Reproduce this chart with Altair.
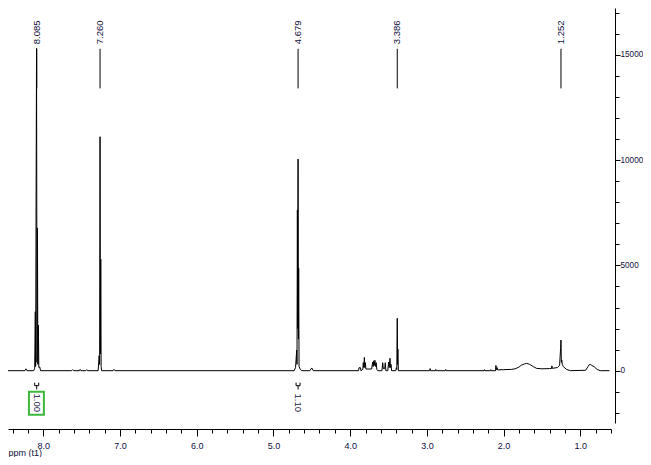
import altair as alt
import pandas as pd

# ---------------- data ----------------
ppm = [8.460, 8.240, 8.226, 8.212, 8.125, 8.112, 8.104, 8.100, 8.088, 8.082,
       8.076, 8.071, 8.064, 8.058, 8.045, 8.036,
       7.630, 7.617, 7.604, 7.530, 7.520, 7.510, 7.445, 7.434, 7.423,
       7.285, 7.272, 7.266, 7.260, 7.255, 7.251, 7.246, 7.240,
       7.090, 7.078, 7.066,
       4.730, 4.712, 4.697, 4.693, 4.688, 4.684, 4.679, 4.675, 4.671, 4.666, 4.650, 4.630,
       4.525, 4.501, 4.480,
       3.890, 3.885, 3.865, 3.860, 3.835, 3.829, 3.822, 3.815, 3.808, 3.801, 3.795,
       3.720, 3.706, 3.700, 3.692, 3.686, 3.677, 3.670, 3.661, 3.652, 3.640,
       3.585, 3.576, 3.568, 3.550, 3.542, 3.535,
       3.510, 3.498, 3.490, 3.481, 3.474, 3.467, 3.460,
       3.405, 3.398, 3.392, 3.386, 3.382, 3.378, 3.372,
       2.965, 2.958, 2.951, 2.890, 2.884, 2.878, 2.760, 2.754, 2.748,
       2.255, 2.250, 2.245, 2.172, 2.167, 2.162,
       2.105, 2.100, 2.095, 2.085, 2.078, 2.035, 2.030, 2.025,
       2.000, 1.900, 1.850, 1.800, 1.770, 1.730, 1.700, 1.660, 1.610, 1.570,
       1.500, 1.400, 1.375, 1.370, 1.365, 1.300, 1.270,
       1.257, 1.252, 1.247, 1.242, 1.235, 1.220, 1.180, 1.130,
       0.930, 0.900, 0.885, 0.870, 0.850, 0.820, 0.780, 0.740, 0.620]
intensity = [0, 0, 90, 0, 0, 120, 2800, 200, 15300, 400,
             6780, 300, 2170, 150, 170, 0,
             0, 50, 0, 0, 60, 0, 0, 50, 0,
             0, 712, 300, 11110, 800, 5300, 200, 0,
             0, 60, 0,
             0, 150, 980, 300, 7630, 2000, 10050, 1500, 4860, 200, 60, 0,
             0, 130, 0,
             0, 140, 140, 0, 60, 380, 150, 634, 150, 380, 80,
             80, 410, 200, 470, 250, 493, 200, 380, 60, 0,
             0, 380, 100, 100, 380, 0,
             0, 413, 150, 589, 150, 300, 0,
             0, 140, 60, 2490, 300, 1030, 0,
             0, 100, 0, 0, 60, 0, 0, 60, 0,
             0, 50, 0, 0, 50, 0,
             0, 250, 40, 150, 40, 40, 80, 40,
             50, 60, 90, 170, 260, 320, 350, 300, 190, 110,
             90, 100, 110, 230, 110, 150, 250,
             1063, 1458, 400, 508, 300, 190, 60, 0,
             20, 200, 280, 300, 250, 190, 60, 0, 0]

peak_ppm = [8.085, 7.260, 4.679, 3.386, 1.252]
peak_labels = ["8.085", "7.260", "4.679", "3.386", "1.252"]

int_from = [8.112, 4.705]
int_to = [8.060, 4.653]
int_values = ["1.00", "1.10"]

x_ticks = [8.4, 8.2, 8.0, 7.8, 7.6, 7.4, 7.2, 7.0, 6.8, 6.6, 6.4, 6.2, 6.0,
           5.8, 5.6, 5.4, 5.2, 5.0, 4.8, 4.6, 4.4, 4.2, 4.0, 3.8, 3.6, 3.4,
           3.2, 3.0, 2.8, 2.6, 2.4, 2.2, 2.0, 1.8, 1.6, 1.4, 1.2, 1.0, 0.8, 0.6]
y_ticks = list(range(-2000, 18000, 1000))

# ---------------- layout constants ----------------
X_DOMAIN = [0.6, 8.46]
Y_DOMAIN = [-2483, 17220]
LINE_TOP, LINE_BOTTOM = 15285, 13403
LABEL_Y = 15500
BR_TOP, BR_BAR, BR_STEM = -569, -711, -891
INT_TEXT_Y = -1081
BOX_HALF = 0.101
BOX_Y1, BOX_Y2 = -996, -2086

FONT = "Liberation Sans"
TXT = "#101040"

spec = pd.DataFrame({"ppm": ppm, "intensity": intensity})
peaks = pd.DataFrame({"ppm": peak_ppm, "label": peak_labels})
ints = pd.DataFrame({"a": int_from, "b": int_to, "val": int_values})
ints["c"] = (ints["a"] + ints["b"]) / 2
box = ints.iloc[[0]].copy()
box["l"] = box["c"] + BOX_HALF
box["r"] = box["c"] - BOX_HALF + 0.007

xs = alt.Scale(domain=X_DOMAIN, reverse=True, nice=False, zero=False)
ys = alt.Scale(domain=Y_DOMAIN, nice=False, zero=False)

is_int = "abs(datum.value - round(datum.value)) < 0.01"
x_axis = alt.Axis(
    values=x_ticks, format=".1f",
    labelExpr=f"{is_int} ? datum.label : ''",
    tickSize={"condition": {"test": is_int, "value": 7}, "value": 4},
    offset=6, labelPadding=5, domainColor="black", tickColor="black",
    domainWidth=1, tickWidth=1, grid=False, labelFlush=False, labelOverlap=False,
    labelColor=TXT, labelFont=FONT, labelFontSize=9,
    title="ppm (t1)", titleX=0, titleY=26.7, titleAlign="left",
    titleBaseline="alphabetic", titleFont=FONT, titleFontSize=9,
    titleFontWeight="normal", titleColor=TXT,
)
is_major = "datum.value % 5000 === 0"
y_axis = alt.Axis(
    orient="right", values=y_ticks, format="d",
    labelExpr=f"{is_major} ? datum.label : ''",
    tickSize={"condition": {"test": is_major, "value": 5}, "value": 4},
    offset=4, labelPadding=0, domainColor="black", tickColor="black",
    domainWidth=1, tickWidth=1, grid=False, labelFlush=False, labelOverlap=False,
    labelColor=TXT, labelFont=FONT, labelFontSize=8.2, title=None,
)


def X(field):
    return alt.X(field, scale=xs, axis=x_axis)


def Yd(value):
    return alt.Y(datum=value, scale=ys, axis=y_axis)


line = alt.Chart(spec).mark_line(color="black", strokeWidth=1, clip=True).encode(
    x=X("ppm:Q"),
    y=alt.Y("intensity:Q", scale=ys, axis=y_axis),
    order="ppm:Q",
)

plines = alt.Chart(peaks).mark_rule(color="black", strokeWidth=1).encode(
    x=X("ppm:Q"), y=Yd(LINE_TOP), y2=alt.datum(LINE_BOTTOM),
)
ptext = alt.Chart(peaks).mark_text(
    angle=270, align="left", baseline="middle", font=FONT, fontSize=9.5, color=TXT
).encode(x=X("ppm:Q"), y=Yd(LABEL_Y), text="label:N")

br_bar = alt.Chart(ints).mark_rule(color="black", strokeWidth=1).encode(
    x=X("a:Q"), x2="b:Q", y=Yd(BR_BAR),
)
br_left = alt.Chart(ints).mark_rule(color="black", strokeWidth=1).encode(
    x=X("a:Q"), y=Yd(BR_BAR), y2=alt.datum(BR_TOP),
)
br_right = alt.Chart(ints).mark_rule(color="black", strokeWidth=1).encode(
    x=X("b:Q"), y=Yd(BR_BAR), y2=alt.datum(BR_TOP),
)
br_stem = alt.Chart(ints).mark_rule(color="black", strokeWidth=1).encode(
    x=X("c:Q"), y=Yd(BR_BAR), y2=alt.datum(BR_STEM),
)
itext = alt.Chart(ints).mark_text(
    angle=90, align="left", baseline="middle", font=FONT, fontSize=9.5, color=TXT
).encode(x=X("c:Q"), y=Yd(INT_TEXT_Y), text="val:N")
gbox = alt.Chart(box).mark_rect(fill=None, stroke="#3cb83c", strokeWidth=2).encode(
    x=X("l:Q"), x2="r:Q", y=Yd(BOX_Y1), y2=alt.datum(BOX_Y2),
)

chart = alt.layer(
    line, plines, ptext, br_bar, br_left, br_right, br_stem, itext, gbox
).properties(
    width=603, height=415,
    autosize=alt.AutoSizeParams(type="none"),
    padding={"left": 0, "top": 0, "right": 32, "bottom": 34},
).configure_view(stroke=None)

chart.save("out.html", embed_options={"renderer": "svg", "actions": False})
